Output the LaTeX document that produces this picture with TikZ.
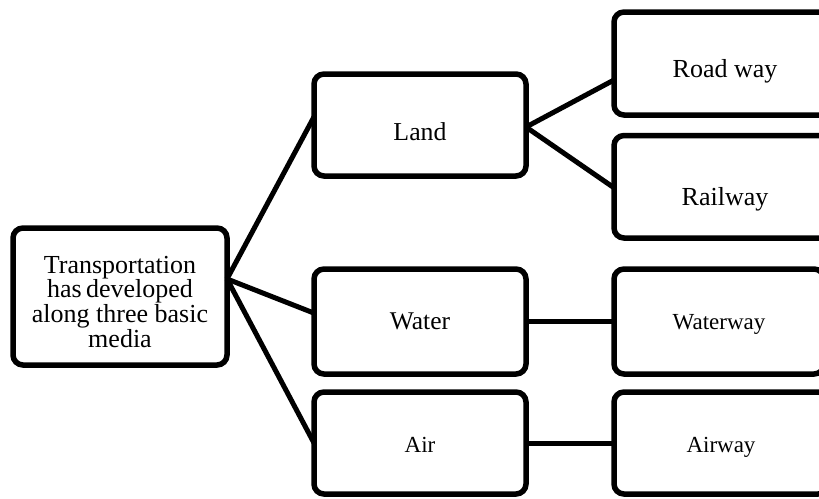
\documentclass[tikz,border=0pt]{standalone}
\usepackage{fontspec}
\setmainfont{Liberation Serif}
\usetikzlibrary{calc}
\tikzset{
  box/.style={draw=black, line width=5.5pt, rounded corners=10pt, fill=white,
    inner sep=0pt, outer sep=0pt, align=center, text depth=0pt},
  link/.style={draw=black, line width=5pt},
}
\begin{document}
\begin{tikzpicture}[x=1pt,y=-1pt]
\useasboundingbox (0,0) rectangle (819,498);
\clip (0,0) rectangle (819,498);
\fill[white] (0,0) rectangle (819,498);
% first column
\node[box, minimum width=214pt, minimum height=137pt, text height=101pt,
  font=\fontsize{26}{24.6}\selectfont] (root) at (120,296.5)
  {Transportation\\has\,developed\\along three basic\\media};
% second column
\node[box, minimum width=212pt, minimum height=102pt, text height=31.4pt,
  font=\fontsize{25.8}{28}\selectfont] (land) at (420,125) {Land};
\node[box, minimum width=212pt, minimum height=105pt, text height=15pt,
  font=\fontsize{25.5}{28}\selectfont] (water) at (420,321.5) {Water};
\node[box, minimum width=212pt, minimum height=102pt, text height=19.4pt,
  font=\fontsize{23}{26}\selectfont] (air) at (420,443) {Air};
% third column
\node[box, minimum width=222pt, minimum height=103pt, text height=27pt,
  font=\fontsize{26}{28}\selectfont] (road) at (725,63.5) {Road way};
\node[box, minimum width=222pt, minimum height=102.5pt, text height=36.5pt,
  font=\fontsize{26}{28}\selectfont] (rail) at (725,186.75) {Railway};
\node[box, minimum width=210pt, minimum height=105pt, text height=15pt,
  font=\fontsize{23}{26}\selectfont] (waterway) at (719,321.5) {Waterway};
\node[box, minimum width=214pt, minimum height=102pt, text height=19.4pt,
  font=\fontsize{23}{26}\selectfont] (airway) at (721,443) {Airway};
% connectors
\coordinate (rootout) at ($(root.north east)!0.372!(root.south east)$);
\draw[link] (rootout) -- ($(land.north west)!0.42!(land.south west)$);
\draw[link] (rootout) -- ($(water.north west)!0.42!(water.south west)$);
\draw[link] (rootout) -- ($(air.north west)!0.5!(air.south west)$);
\coordinate (landout) at ($(land.north east)!0.52!(land.south east)$);
\draw[link] (landout) -- ($(road.north west)!0.66!(road.south west)$);
\draw[link] (landout) -- ($(rail.north west)!0.51!(rail.south west)$);
\draw[link] ($(water.north east)!0.5!(water.south east)$) -- ($(waterway.north west)!0.5!(waterway.south west)$);
\draw[link] ($(air.north east)!0.5!(air.south east)$) -- ($(airway.north west)!0.5!(airway.south west)$);
\end{tikzpicture}
\end{document}
